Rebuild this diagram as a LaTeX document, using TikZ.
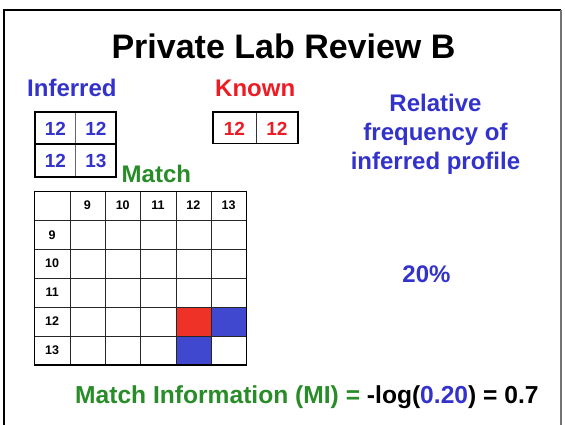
\documentclass[tikz,border=0pt]{standalone}
\usepackage{fontspec}
\setmainfont{Liberation Sans}
\definecolor{txtblue}{RGB}{51,51,204}
\definecolor{txtred}{RGB}{237,28,36}
\definecolor{txtgreen}{RGB}{40,140,40}
\definecolor{cellred}{RGB}{238,50,40}
\definecolor{cellblue}{RGB}{64,72,208}
\begin{document}
\begin{tikzpicture}[x=1pt,y=-1pt,
  big/.style={font=\bfseries\fontsize{24}{29}\selectfont, inner sep=0pt},
  celltxt/.style={font=\bfseries\fontsize{19}{22}\selectfont, inner sep=0pt},
  hdr/.style={font=\bfseries\fontsize{12.5}{14}\selectfont, inner sep=0pt},
  boxline/.style={line width=1.5pt},
  midline/.style={line width=0.9pt, black!60},
  gridline/.style={line width=0.8pt, black!85}]
\useasboundingbox (0,0) rectangle (565,424);
\fill[white] (0,0) rectangle (565,424);
\begin{scope}
\clip (0,0) rectangle (565,424);
% slide frame
\draw[line width=2pt] (3.5,430) -- (3.5,9.5) -- (561,9.5);
\draw[line width=1.2pt, black!55] (561,9.5) -- (561,430);
\end{scope}

% title
\node[anchor=base, inner sep=0pt, font=\bfseries\fontsize{34}{40}\selectfont] (title) at (283.5,58) {Private Lab Review B};

% headings
\node[big, anchor=base west, text=txtblue] (inferred) at (27,96.7) {Inferred};
\node[big, anchor=base west, text=txtred] (known) at (215,96.7) {Known};
\node[big, anchor=base west, text=txtgreen] (match) at (121.5,182.7) {Match};

% inferred profile boxes
\draw[midline] (75.3,112) -- (75.3,177);
\draw[boxline] (35,112) rectangle (116,144);
\draw[boxline] (35,144.5) rectangle (116,177);
\node[celltxt, text=txtblue] (i11) at (55.5,129) {12};
\node[celltxt, text=txtblue] (i12) at (96,129) {12};
\node[celltxt, text=txtblue] (i21) at (55.5,161) {12};
\node[celltxt, text=txtblue] (i22) at (96,161) {13};

% known profile box
\draw[midline, black!80] (256,112) -- (256,143.5);
\draw[boxline] (213,112) rectangle (298,143.5);
\node[celltxt, text=txtred] (k1) at (234.5,128.5) {12};
\node[celltxt, text=txtred] (k2) at (277,128.5) {12};

% match grid: cells coloured where the alleles meet
\fill[cellred] (176,307.7) rectangle (211.3,336);
\fill[cellblue] (211.3,307.7) rectangle (246.7,336);
\fill[cellblue] (176,336) rectangle (211.3,365);
\foreach \x in {70,105.3,140.7,176,211.3}
  \draw[gridline] (\x,191.7) -- (\x,365);
\foreach \y in {220,249.3,278.3,307.7,336}
  \draw[gridline] (34.3,\y) -- (246.7,\y);
\draw[line width=1.3pt] (34.3,191.7) rectangle (246.7,365);
\foreach \v [count=\i] in {9,10,11,12,13} {
  \pgfmathsetmacro\cx{52.15+35.28*\i}
  \pgfmathsetmacro\ry{205.85+28.86*\i}
  \node[hdr] (col\v) at (\cx,205.3) {\v};
  \node[hdr] (row\v) at (52.2,\ry) {\v};
}

% relative frequency
\node[big, text=txtblue, anchor=base] (rel1) at (435.5,111) {Relative};
\node[big, text=txtblue, anchor=base] (rel2) at (435.5,140) {frequency of};
\node[big, text=txtblue, anchor=base] (rel3) at (435.5,169) {inferred profile};
\node[big, text=txtblue, anchor=base] (pct) at (426.5,282) {20\%};

% match information formula
\node[big, font=\bfseries\fontsize{24.6}{29}\selectfont, anchor=base west, text=txtgreen] (mi) at (75,403)
  {Match Information (MI) = \textcolor{black}{-log(}\textcolor{txtblue}{0.20}\textcolor{black}{) = 0.7}};
\end{tikzpicture}
\end{document}
